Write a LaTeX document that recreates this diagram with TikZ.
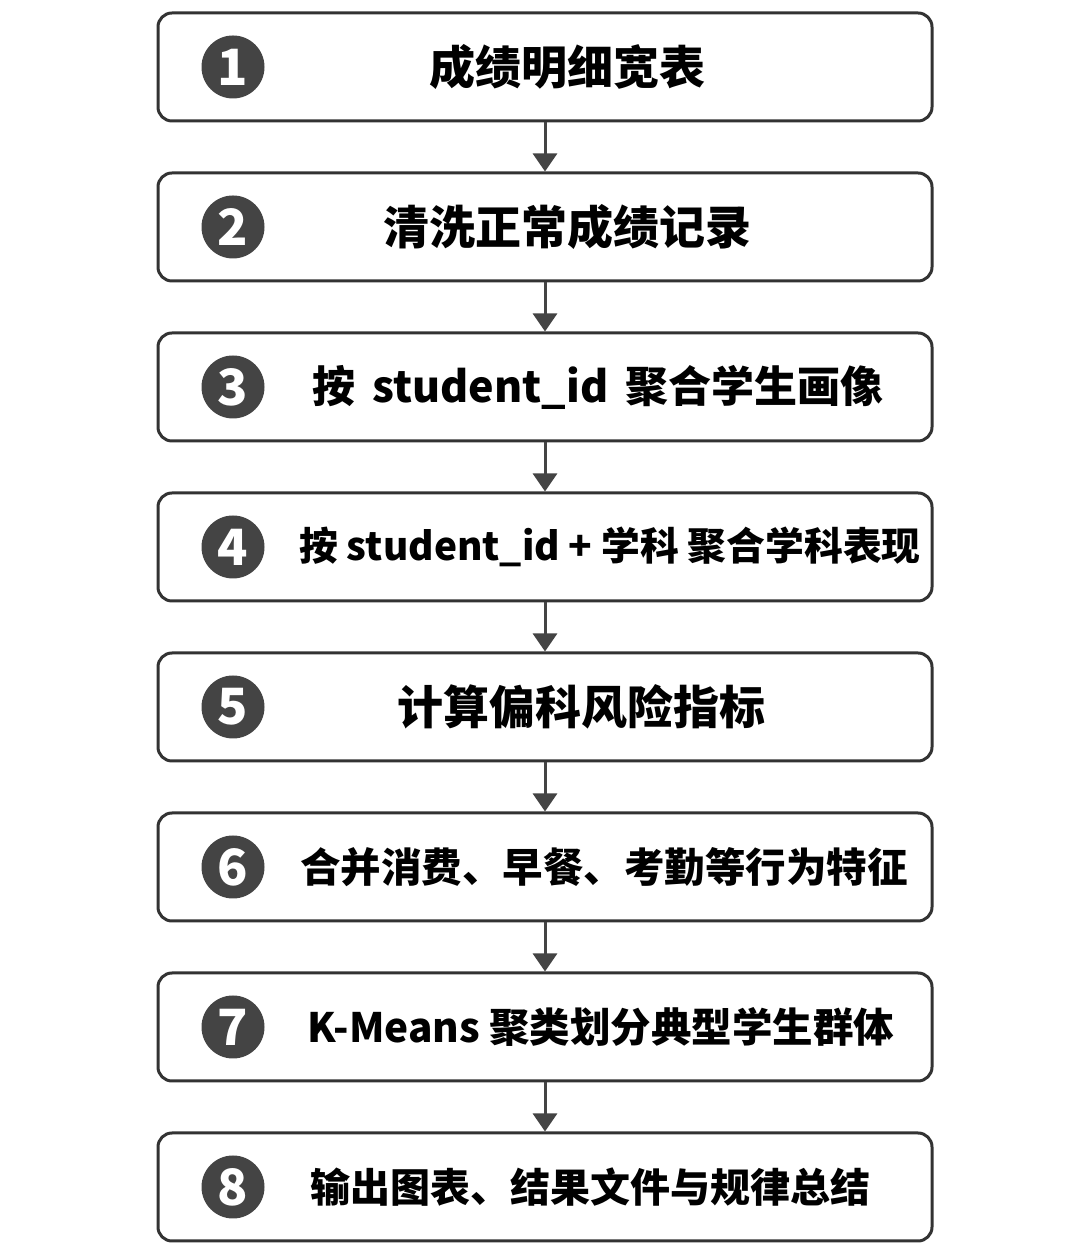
\documentclass[tikz,border=0pt]{standalone}
\usepackage{fontspec}
\setmainfont{Noto Sans CJK SC}
\usetikzlibrary{arrows.meta}

\definecolor{boxline}{HTML}{333333}
\definecolor{dotfill}{HTML}{444444}

\tikzset{
  stepbox/.style={draw=boxline, line width=3pt, rounded corners=14pt,
    minimum width=774pt, minimum height=108pt, fill=white},
  numdot/.style={circle, fill=dotfill, minimum size=63pt, inner sep=0pt,
    text=white, font=\fontsize{50}{50}\selectfont\bfseries},
  steparrow/.style={draw=dotfill, line width=3pt,
    -{Triangle[length=18pt,width=24pt]}},
}

\begin{document}
\begin{tikzpicture}[x=1pt, y=1pt]
\useasboundingbox[fill=white] (0,0) rectangle (1086,1250);
% steps, top to bottom
\foreach \n/\txt/\tx/\fs in {
  1/成绩明细宽表/567/46,
  2/清洗正常成绩记录/567/46,
  3/按\ \,student\_id\ \,聚合学生画像/598/43,
  4/按 student\_id + 学科 聚合学科表现/610/38.8,
  5/计算偏科风险指标/581/46,
  6/合并消费、早餐、考勤等行为特征/604/40.5,
  7/K-Means 聚类划分典型学生群体/601/40.5,
  8/输出图表、结果文件与规律总结/590/40}
{
  \node[stepbox] (b\n) at (545, 1343-160*\n) {};
  \node[numdot] (n\n) at (233, 1343-160*\n) {\n};
  \node[font=\fontsize{\fs}{\fs}\selectfont\bfseries] (t\n) at (\tx, 1343-160*\n) {\txt};
}
% arrows
\foreach \a/\b in {1/2,2/3,3/4,4/5,5/6,6/7,7/8}
  \draw[steparrow] (b\a.south) -- (b\b.north);
\end{tikzpicture}
\end{document}
